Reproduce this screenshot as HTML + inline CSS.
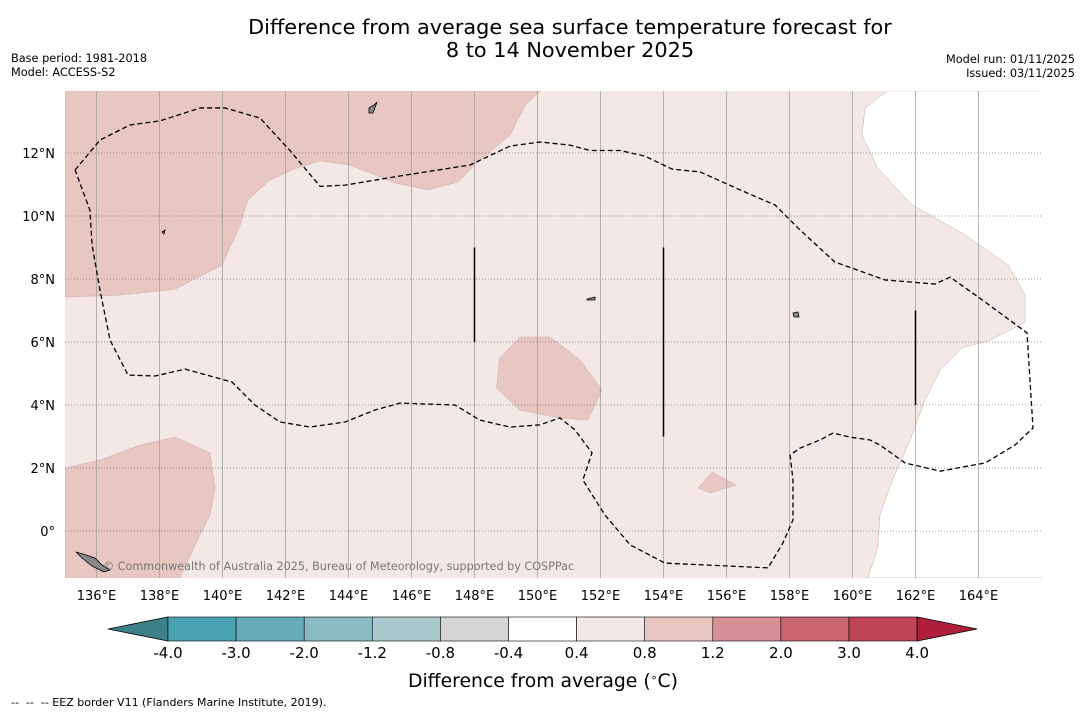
<!DOCTYPE html>
<html><head><meta charset="utf-8"><style>
body{margin:0;background:#fff;font-family:"Liberation Sans","DejaVu Sans",sans-serif;}
</style></head><body>
<svg id="c" width="1085" height="713" xmlns="http://www.w3.org/2000/svg" style="font-family:'DejaVu Sans','Liberation Sans',sans-serif">
<rect width="1085" height="713" fill="#fff"/>
<text x="570" y="34" text-anchor="middle" font-size="20.8">Difference from average sea surface temperature forecast for</text>
<text x="570" y="57" text-anchor="middle" font-size="20.8">8 to 14 November 2025</text>
<text x="11" y="62" font-size="11.3">Base period: 1981-2018</text>
<text x="11" y="76" font-size="11.3">Model: ACCESS-S2</text>
<text x="1075" y="63" font-size="11.3" text-anchor="end">Model run: 01/11/2025</text>
<text x="1075" y="77" font-size="11.3" text-anchor="end">Issued: 03/11/2025</text>
<defs><clipPath id="mc"><rect x="65" y="91" width="977" height="487"/></clipPath></defs>
<g id="map" clip-path="url(#mc)"></g>
<g id="axes"></g>
<g id="cbar"></g>
<text x="543" y="687" text-anchor="middle" font-size="18.8">Difference from average (<tspan baseline-shift="super" font-size="11">∘</tspan>C)</text>
<text x="11" y="706" font-size="11" xml:space="preserve">--  --  -- EEZ border V11 (Flanders Marine Institute, 2019).</text>
</svg>
<script>
const lonTicks=[136,138,140,142,144,146,148,150,152,154,156,158,160,162,164];
const latTicks=[0,2,4,6,8,10,12];
const binEdges=[-4.0,-3.0,-2.0,-1.2,-0.8,-0.4,0.4,0.8,1.2,2.0,3.0,4.0];
const binColors=["#4aa3b3","#68abb8","#8bb9c4","#aac9cd","#d4d5d4","#ffffff","#f4e8e6","#e8c6c1","#d78f98","#c9656f","#bf4556"];
const lowColor="#3c8088", highColor="#b01e3c";
const darkNW={lon:[135,150.08,149.6,149.13,148.0,147.48,146.52,145.48,144.05,143.1,142.3,141.5,140.8,140.56,139.98,138.5,136.75,135],lat:[13.97,13.97,13.5,12.57,11.62,11.08,10.83,11.05,11.62,11.75,11.5,11.14,10.5,9.71,8.44,7.68,7.49,7.43]};
const darkSW={lon:[135,136.1,137.4,138.5,139.6,139.76,139.6,139.13,138.65,135],lat:[2.0,2.25,2.73,2.98,2.48,1.37,0.5,-0.44,-1.49,-1.49]};
const darkMid={lon:[149.44,150.4,151.35,152.05,151.6,150.7,149.44,148.7,148.8],lat:[6.16,6.16,5.43,4.48,3.52,3.59,3.84,4.54,5.49]};
const darkSmall={lon:[155.1,155.54,156.3,155.48],lat:[1.37,1.87,1.46,1.21]};
const whiteE={lon:[161.1,160.4,160.3,160.8,161.89,163.57,164.94,165.48,165.48,164.37,163.48,162.78,162.3,161.83,161.29,160.87,160.8,160.49,166.2,166.2],lat:[13.97,13.43,12.57,11.52,10.35,9.4,8.44,7.49,6.63,6.06,5.81,5.11,4.16,2.89,1.68,0.5,-0.54,-1.49,-1.49,13.97]};
const eezLon=[135.32,136.11,137.06,138.02,139.29,140.08,141.19,142.14,143.1,143.89,145.63,147.86,149.13,150.08,151.03,151.67,152.62,153.41,154.27,155.16,156.43,157.54,158.33,159.44,161.03,162.62,163.1,164.21,165.54,165.73,165.16,164.21,162.78,161.67,160.87,160.56,159.92,159.38,158.97,158.33,158.02,158.11,158.11,157.79,157.32,154.05,152.94,152.14,151.44,151.73,151.19,150.71,150.08,149.13,148.17,147.38,145.63,144.84,143.89,142.78,141.83,141.03,140.3,138.81,137.86,137.0,136.43,136.11,135.86,135.79,135.32];
const eezLat=[11.46,12.41,12.89,13.02,13.43,13.43,13.11,12.08,10.94,10.98,11.27,11.62,12.22,12.35,12.25,12.08,12.08,11.9,11.49,11.4,10.83,10.35,9.56,8.54,7.97,7.84,8.06,7.27,6.29,3.27,2.73,2.16,1.9,2.16,2.73,2.89,2.98,3.11,2.89,2.63,2.41,1.62,0.35,-0.38,-1.17,-1.02,-0.44,0.51,1.62,2.48,3.21,3.59,3.37,3.3,3.52,4.0,4.06,3.84,3.46,3.3,3.46,4.0,4.73,5.14,4.92,4.95,6.06,7.65,9.08,10.19,11.46];
const segLon=[148,154,162], segTop=[9,9,7], segBot=[6,3,4];
const X=lon=>65+(lon-135)*31.5, Y=lat=>531-lat*31.5;
const NS="http://www.w3.org/2000/svg";
function mk(t,a,p){const e=document.createElementNS(NS,t);for(const k in a)e.setAttribute(k,a[k]);p.appendChild(e);return e;}
const map=document.getElementById('map');
let e=mk('rect',{x:65,y:91,width:977,height:487,fill:"#f4e8e6"},map);


function poly(o,fill,name){const pts=o.lon.map((l,i)=>X(l)+','+Y(o.lat[i])).join(' ');
 const p=mk('polygon',{points:pts,fill:fill,stroke:"#c8aaa6","stroke-width":0.5},map);
 
 }
poly(darkNW,"#e8c6c1","anomaly-region-nw");
poly(darkSW,"#e8c6c1","anomaly-region-sw");
poly(darkMid,"#e8c6c1","anomaly-region-central");
poly(darkSmall,"#e8c6c1","anomaly-region-small");
poly(whiteE,"#ffffff","neutral-region-east");
lonTicks.forEach(l=>{const g=mk('line',{x1:X(l),x2:X(l),y1:91,y2:578,stroke:"#999","stroke-width":0.7},map);
 
 });
latTicks.forEach(l=>{const g=mk('line',{x1:65,x2:1042,y1:Y(l),y2:Y(l),stroke:"#777","stroke-width":0.8,"stroke-dasharray":"1,2"},map);
 
 });
const eez=mk('polyline',{points:eezLon.map((l,i)=>X(l)+','+Y(eezLat[i])).join(' '),fill:"none",stroke:"#000","stroke-width":1.3,"stroke-dasharray":"5,3"},map);


segLon.forEach((l,i)=>{const s=mk('line',{x1:X(l),x2:X(l),y1:Y(segTop[i]),y2:Y(segBot[i]),stroke:"#000","stroke-width":1.5},map);
 
 });
const isl=mk('path',{d:"M76 552 L86 555 L95 558 L102 565 L110 570 L104 572 L92 566 L82 558 Z M369 108 L374 105 L377 102 L373 113 L369 113 Z M162 232 L165 230 L164 234 Z M793 313 L798 312 L799 317 L794 317 Z M587 299 L595 297 L595 300 L587 300 Z",fill:"#888",stroke:"#000","stroke-width":0.8},map);


const ct=mk('text',{x:103,y:570,"font-size":11.2,fill:"#777"},map);ct.textContent="© Commonwealth of Australia 2025, Bureau of Meteorology, supported by COSPPac";


const ax=document.getElementById('axes');
lonTicks.forEach(l=>{const t=mk('text',{x:X(l),y:600,"text-anchor":"middle","font-size":13},ax);t.textContent=l+"°E";
 
 });
latTicks.forEach(l=>{const t=mk('text',{x:55,y:Y(l)+5,"text-anchor":"end","font-size":13},ax);t.textContent=l===0?"0°":l+"°N";
 
 });
const cb=document.getElementById('cbar');
const cbX0=168,cbW=68.1,cbY=617,cbH=24;
const lo=mk('polygon',{points:`${cbX0},${cbY} ${cbX0},${cbY+cbH} 108,${cbY+cbH/2}`,fill:lowColor,stroke:"#000","stroke-width":0.8},cb);


binColors.forEach((c,i)=>{const r=mk('rect',{x:cbX0+i*cbW,y:cbY,width:cbW,height:cbH,fill:c,stroke:"#000","stroke-width":0.6},cb);
 
 });
const xe=cbX0+binColors.length*cbW;
const hi=mk('polygon',{points:`${xe},${cbY} ${xe},${cbY+cbH} ${xe+60},${cbY+cbH/2}`,fill:highColor,stroke:"#000","stroke-width":0.8},cb);


binEdges.forEach((v,i)=>{const t=mk('text',{x:cbX0+i*cbW,y:658,"text-anchor":"middle","font-size":15},cb);t.textContent=v.toFixed(1);
 
 });
</script>
</body></html>
